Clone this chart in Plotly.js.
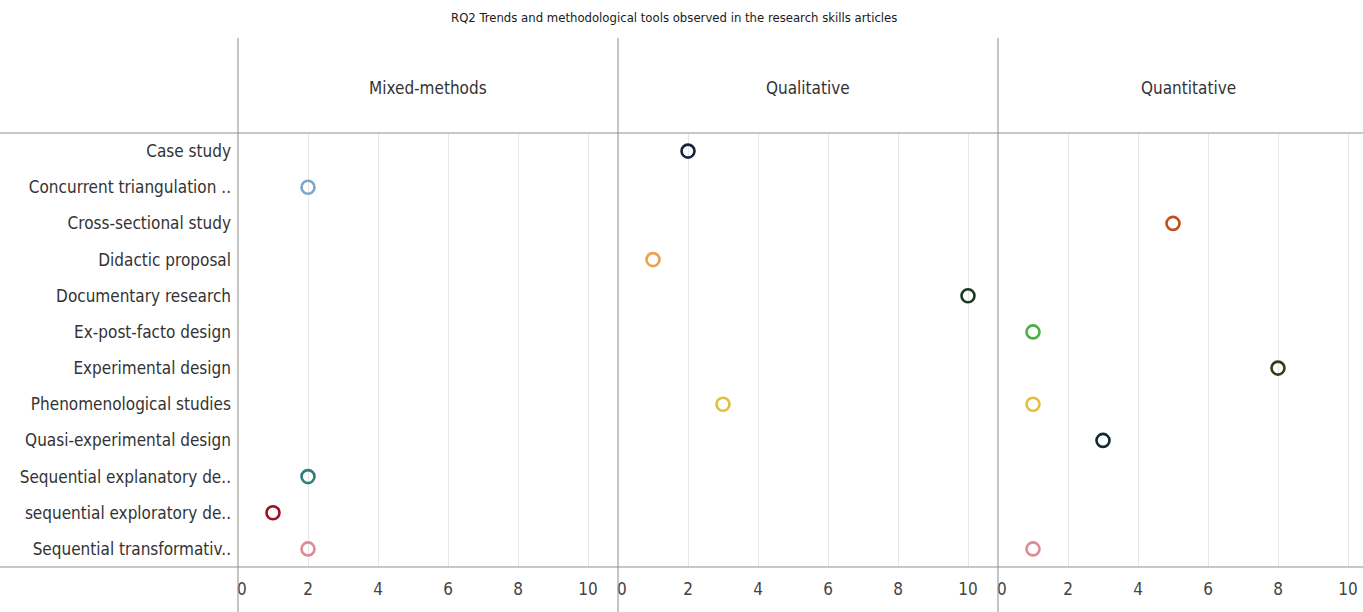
<!DOCTYPE html>
<html>
<head>
<meta charset="utf-8">
<script src="https://cdn.plot.ly/plotly-3.0.1.min.js"></script>
<style>html,body{margin:0;padding:0;background:#fff;}#chart{width:1363px;height:612px;}</style>
</head>
<body>
<div id="chart"></div>
<script>
const titleText = 'RQ2 Trends and methodological tools observed in the research skills articles';
const panelNames = ['Mixed-methods', 'Qualitative', 'Quantitative'];
const categories = [
  'Case study',
  'Concurrent triangulation ..',
  'Cross-sectional study',
  'Didactic proposal',
  'Documentary research',
  'Ex-post-facto design',
  'Experimental design',
  'Phenomenological studies',
  'Quasi-experimental design',
  'Sequential explanatory de..',
  'sequential exploratory de..',
  'Sequential transformativ..'
];
const categoryColors = [
  '#16223f', '#7aa6d0', '#c2501c', '#e9a24e', '#1c3a1e', '#4caf48',
  '#3b3a14', '#e3bd3c', '#112b33', '#2d8079', '#9c0f27', '#dc8c92'
];
const mixedCats = ['Concurrent triangulation ..', 'Sequential explanatory de..', 'sequential exploratory de..', 'Sequential transformativ..'];
const mixedVals = [2, 2, 1, 2];
const qualCats = ['Case study', 'Didactic proposal', 'Documentary research', 'Phenomenological studies'];
const qualVals = [2, 1, 10, 3];
const quantCats = ['Cross-sectional study', 'Ex-post-facto design', 'Experimental design', 'Phenomenological studies', 'Quasi-experimental design', 'Sequential transformativ..'];
const quantVals = [5, 1, 8, 1, 3, 1];
const xTickVals = [0, 2, 4, 6, 8, 10];

const FONT = '"Liberation Sans Narrow", "DejaVu Sans Condensed", "Roboto Condensed", "Open Sans", sans-serif';
const W = 1363, H = 612, ML = 238, MT = 133, MB = 45;
const PW = W - ML, PH = H - MT - MB;
const panelPx = 380, pxPerUnit = 35;

function colorOf(c) { return categoryColors[categories.indexOf(c)]; }

const panels = [[mixedCats, mixedVals], [qualCats, qualVals], [quantCats, quantVals]];
const traces = panels.map((p, i) => ({
  type: 'scatter', mode: 'markers',
  x: p[1], y: p[0],
  xaxis: i === 0 ? 'x' : 'x' + (i + 1), yaxis: 'y',
  marker: { symbol: 'circle-open', size: 13, color: p[0].map(colorOf), line: { width: 2.6 } },
  hoverinfo: 'skip', showlegend: false, cliponaxis: false
}));

const layout = {
  width: W, height: H,
  margin: { l: ML, r: 0, t: MT, b: MB, pad: 0 },
  paper_bgcolor: '#fff', plot_bgcolor: '#fff',
  font: { family: FONT, size: 16, color: '#333' },
  showlegend: false,
  yaxis: {
    type: 'category', categoryorder: 'array', categoryarray: categories,
    range: [11.5, -0.5], showgrid: false, zeroline: false, showline: false,
    ticks: '', tickfont: { family: FONT, size: 17, color: '#333' }, ticklabelstandoff: 6,
    fixedrange: true
  },
  shapes: [], annotations: []
};

for (let i = 0; i < 3; i++) {
  const d0 = i * panelPx / PW;
  const d1 = Math.min(1, (i + 1) * panelPx / PW);
  const span = (d1 - d0) * PW / pxPerUnit;
  const key = i === 0 ? 'xaxis' : 'xaxis' + (i + 1);
  layout[key] = {
    domain: [d0, d1], range: [0, span], anchor: 'y',
    tickvals: xTickVals, ticktext: xTickVals.map(v => v === 0 ? '\u2002' + v : String(v)),
    showgrid: true, gridcolor: '#e6e6e6', gridwidth: 1, zeroline: false,
    showline: false, ticks: '', tickfont: { family: FONT, size: 17, color: '#444' },
    ticklabelstandoff: 10, fixedrange: true
  };
  layout.shapes.push({
    type: 'line', xref: 'paper', yref: 'paper', x0: d0, x1: d0,
    y0: -(MB) / PH, y1: (PH + MT - 38) / PH, line: { color: '#8c8c8c', width: 1 }
  });
  layout.annotations.push({
    text: panelNames[i], xref: 'paper', yref: 'paper',
    x: (i * panelPx + panelPx / 2) / PW, y: (PH + MT - 88) / PH,
    xanchor: 'center', yanchor: 'middle', showarrow: false,
    font: { family: FONT, size: 17, color: '#333' }
  });
}
[0, 1].forEach(yv => layout.shapes.push({
  type: 'line', xref: 'paper', yref: 'paper', x0: -ML / PW, x1: 1, y0: yv, y1: yv,
  line: { color: '#8f8f8f', width: 1 }
}));
layout.annotations.push({
  text: titleText, xref: 'paper', yref: 'paper',
  x: (674 - ML) / PW, y: (PH + MT - 17) / PH, xanchor: 'center', yanchor: 'middle',
  showarrow: false, font: { family: FONT, size: 13, color: '#1a1a1a' }
});

Plotly.newPlot('chart', traces, layout, { displayModeBar: false, staticPlot: true });
</script>
</body>
</html>
